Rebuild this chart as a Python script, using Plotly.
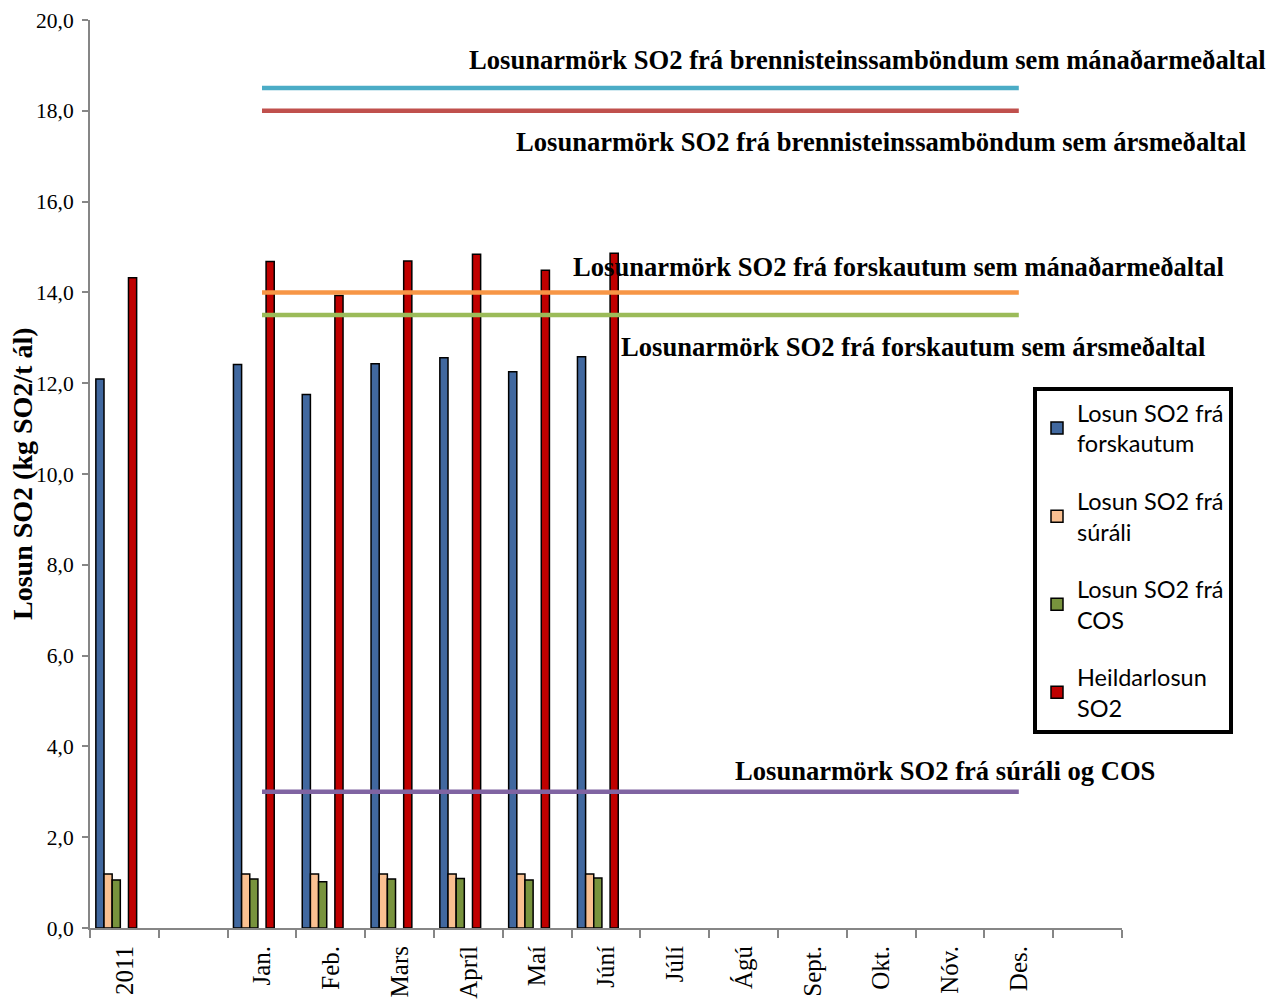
import plotly.graph_objects as go

categories = ["2011", " ", "Jan.", "Feb.", "Mars", "Apríl", "Maí", "Júní",
              "Júlí", "Ágú", "Sept.", "Okt.", "Nóv.", "Des.", "  "]

bar_categories = ["2011", "Jan.", "Feb.", "Mars", "Apríl", "Maí", "Júní"]
forskaut = [12.09, 12.41, 11.75, 12.43, 12.56, 12.25, 12.58]
surali = [1.19, 1.19, 1.19, 1.19, 1.19, 1.19, 1.19]
cos = [1.06, 1.08, 1.02, 1.08, 1.09, 1.06, 1.10]
heildar = [14.32, 14.68, 13.93, 14.69, 14.84, 14.49, 14.86]

limit_months = ["Jan.", "Feb.", "Mars", "Apríl", "Maí", "Júní",
                "Júlí", "Ágú", "Sept.", "Okt.", "Nóv.", "Des."]
limit_brenni_man = 18.5
limit_brenni_ar = 18.0
limit_forsk_man = 14.0
limit_forsk_ar = 13.5
limit_surali_cos = 3.0

y_ticks = [0, 2, 4, 6, 8, 10, 12, 14, 16, 18, 20]

fig = go.Figure()

def bar(name, vals, color, show=True, group=None):
    fig.add_trace(go.Bar(
        x=bar_categories, y=vals, name=name, showlegend=show,
        legendgroup=group,
        marker=dict(color=color, line=dict(color="black", width=1.5)),
    ))

bar("Losun SO2 frá<br>forskautum", forskaut, "#41689F", group="a")
bar("Losun SO2 frá<br>súráli", surali, "#FAC091", group="b")
bar("Losun SO2 frá<br>COS", cos, "#78933D", group="c")
bar("", [None] * len(bar_categories), "rgba(0,0,0,0)", show=False, group="x1")
bar("Heildarlosun<br>SO2", heildar, "#C00000", group="d")
bar("", [None] * len(bar_categories), "rgba(0,0,0,0)", show=False, group="x2")
bar("", [None] * len(bar_categories), "rgba(0,0,0,0)", show=False, group="x3")

for i, (val, color) in enumerate([(limit_brenni_man, "#4BACC6"), (limit_brenni_ar, "#C0504D"),
                   (limit_forsk_man, "#F79646"), (limit_forsk_ar, "#9BBB59"),
                   (limit_surali_cos, "#8064A2")]):
    fig.add_trace(go.Scatter(
        x=limit_months, y=[val] * len(limit_months), mode="lines",
        line=dict(color=color, width=4.5), showlegend=False, hoverinfo="skip",
        legendgroup="l%d" % i,
    ))

# page-pixel layout of the plotting area (browser adds 8px body margin)
OFF = 8
W, H = 1285, 1006
PL, PR, PT, PB = 90, 1122, 20, 928
pw, ph = PR - PL, PB - PT

def px(x):
    return (x - PL) / pw

def py(y):
    return (PB - y) / ph

annots = [
    ("Losunarmörk SO2 frá brennisteinssamböndum sem mánaðarmeðaltal", 1268, 60),
    ("Losunarmörk SO2 frá brennisteinssamböndum sem ársmeðaltal", 1248, 142),
    ("Losunarmörk SO2 frá forskautum sem mánaðarmeðaltal", 1226, 267),
    ("Losunarmörk SO2 frá forskautum sem ársmeðaltal", 1207, 347),
    ("Losunarmörk SO2 frá súráli og COS", 1157, 771),
]
for text, xr, yc in annots:
    fig.add_annotation(
        text="<b>" + text + "</b>", xref="paper", yref="paper",
        x=px(xr), y=py(yc), xanchor="right", yanchor="middle",
        showarrow=False,
        font=dict(family="Liberation Serif", size=26.6, color="black"),
    )

fig.add_annotation(
    text="<b>Losun SO2 (kg SO2/t ál)</b>", xref="paper", yref="paper",
    x=px(22), y=0.5, xanchor="center", yanchor="middle", textangle=-90,
    showarrow=False,
    font=dict(family="Liberation Serif", size=28, color="black"),
)

fig.update_layout(
    width=W, height=H,
    margin=dict(l=PL - OFF, r=W + OFF - PR, t=PT - OFF, b=H + OFF - PB, autoexpand=False),
    paper_bgcolor="white", plot_bgcolor="white",
    barmode="group", bargap=0.17, bargroupgap=0,
    separators=",.",
    showlegend=True,
    legend=dict(
        x=px(1033), y=py(387), xanchor="left", yanchor="top",
        bordercolor="black", borderwidth=4, bgcolor="white",
        font=dict(family="Lato", size=23.5, color="black"),
        tracegroupgap=24, traceorder="grouped",
    ),
    xaxis=dict(
        categoryorder="array", categoryarray=categories,
        range=[-0.5, len(categories) - 0.5],
        showline=True, linecolor="#868686", linewidth=2,
        ticks="outside", tickson="boundaries", ticklen=8, tickcolor="#868686", tickwidth=2,
        tickangle=-90, ticklabelstandoff=6,
        tickfont=dict(family="Liberation Serif", size=25, color="black"),
        showgrid=False, zeroline=False,
    ),
    yaxis=dict(
        range=[0, 20], tickvals=y_ticks, tickformat=".1f",
        showline=True, linecolor="#868686", linewidth=2,
        ticks="outside", ticklen=6, tickcolor="#868686", tickwidth=2,
        ticklabelstandoff=4,
        tickfont=dict(family="Liberation Serif", size=21.5, color="black"),
        showgrid=False, zeroline=False,
    ),
)

fig.write_html("out.html")
